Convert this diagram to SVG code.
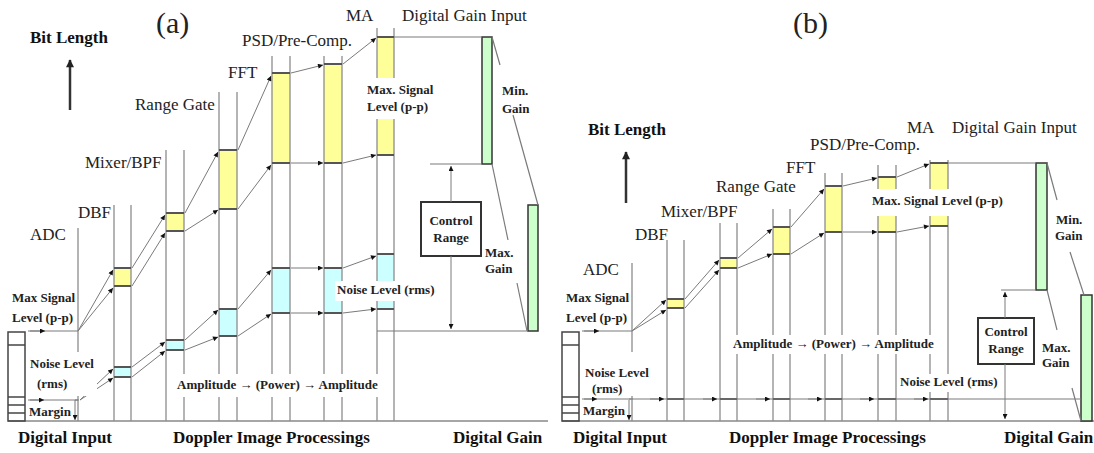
<svg xmlns="http://www.w3.org/2000/svg" width="1094" height="453" viewBox="0 0 1094 453">
<style>
.col{stroke:#8c8c8c;stroke-width:1.3;fill:none}
.edge{stroke:#555;stroke-width:2}
.y{fill:#ffff99}
.c{fill:#ccffff}
.g{fill:#ccffcc;stroke:#333;stroke-width:1.5}
.arr{stroke:#7a7a7a;stroke-width:1;fill:none;marker-end:url(#ah)}
.ln{stroke:#7a7a7a;stroke-width:1.2;fill:none}
.base{stroke:#888;stroke-width:1.3}
.bg{fill:#fff}
.t{font-family:"Liberation Serif","Times New Roman",serif;font-size:17px;fill:#222}
.tb{font-family:"Liberation Serif","Times New Roman",serif;font-size:17px;font-weight:bold;fill:#111}
.ts{font-family:"Liberation Serif","Times New Roman",serif;font-size:13px;font-weight:bold;fill:#222}
.tt{font-family:"Liberation Serif","Times New Roman",serif;font-size:30px;fill:#222}
.box{fill:#fff;stroke:#333;stroke-width:2}
.lbox{fill:none;stroke:#444;stroke-width:1.5}
.up{stroke:#333;stroke-width:2.5;marker-end:url(#ahb)}
</style>
<defs>
<marker id="ah" viewBox="0 0 10 10" refX="10" refY="5" markerWidth="7" markerHeight="5" markerUnits="userSpaceOnUse" orient="auto"><path d="M0,0 L10,5 L0,10 z" fill="#111"/></marker>
<marker id="ahb" viewBox="0 0 10 10" refX="9" refY="5" markerWidth="9" markerHeight="8" markerUnits="userSpaceOnUse" orient="auto"><path d="M0,0 L10,5 L0,10 z" fill="#222"/></marker>
</defs>
<rect width="1094" height="453" fill="#fff"/>

<!-- ================= PANEL (a) ================= -->
<g id="a-base"><line class="base" x1="8" y1="421" x2="548" y2="421"/></g>
<g id="a-input">
<rect class="lbox" x="8" y="332" width="17" height="89"/>
<line class="lbox" x1="8" y1="345" x2="25" y2="345"/>
<line class="lbox" x1="8" y1="397" x2="25" y2="397"/>
<line class="lbox" x1="8" y1="405" x2="25" y2="405"/>
<line class="lbox" x1="8" y1="413" x2="25" y2="413"/>
</g>
<g id="a-adc">
<line class="col" x1="78" y1="228" x2="78" y2="421"/>
<line class="col" x1="75" y1="400" x2="79" y2="400"/>
</g>
<g id="a-dbf">
<rect class="y" x="114" y="268" width="17" height="18"/>
<rect class="c" x="114" y="367" width="17" height="10"/>
<line class="col" x1="114" y1="205" x2="114" y2="421"/><line class="col" x1="131" y1="205" x2="131" y2="421"/>
<line class="edge" x1="114" y1="268" x2="131" y2="268"/><line class="edge" x1="114" y1="286" x2="131" y2="286"/>
<line class="edge" x1="114" y1="367" x2="131" y2="367"/><line class="edge" x1="114" y1="377" x2="131" y2="377"/>
</g>
<g id="a-mixer">
<rect class="y" x="166" y="213" width="18" height="18"/>
<rect class="c" x="166" y="340" width="18" height="10"/>
<line class="col" x1="166" y1="150" x2="166" y2="421"/><line class="col" x1="184" y1="150" x2="184" y2="421"/>
<line class="edge" x1="166" y1="213" x2="184" y2="213"/><line class="edge" x1="166" y1="231" x2="184" y2="231"/>
<line class="edge" x1="166" y1="340" x2="184" y2="340"/><line class="edge" x1="166" y1="350" x2="184" y2="350"/>
</g>
<g id="a-range">
<rect class="y" x="219" y="150" width="18" height="59"/>
<rect class="c" x="219" y="309" width="18" height="27"/>
<line class="col" x1="219" y1="92" x2="219" y2="421"/><line class="col" x1="237" y1="92" x2="237" y2="421"/>
<line class="edge" x1="219" y1="150" x2="237" y2="150"/><line class="edge" x1="219" y1="209" x2="237" y2="209"/>
<line class="edge" x1="219" y1="309" x2="237" y2="309"/><line class="edge" x1="219" y1="336" x2="237" y2="336"/>
</g>
<g id="a-fft">
<rect class="y" x="272" y="73" width="18" height="90"/>
<rect class="c" x="272" y="268" width="18" height="45"/>
<line class="col" x1="272" y1="56" x2="272" y2="421"/><line class="col" x1="290" y1="56" x2="290" y2="421"/>
<line class="edge" x1="272" y1="73" x2="290" y2="73"/><line class="edge" x1="272" y1="163" x2="290" y2="163"/>
<line class="edge" x1="272" y1="268" x2="290" y2="268"/><line class="edge" x1="272" y1="313" x2="290" y2="313"/>
</g>
<g id="a-psd">
<rect class="y" x="324" y="64" width="18" height="99"/>
<rect class="c" x="324" y="268" width="18" height="45"/>
<line class="col" x1="324" y1="56" x2="324" y2="421"/><line class="col" x1="342" y1="56" x2="342" y2="421"/>
<line class="edge" x1="324" y1="64" x2="342" y2="64"/><line class="edge" x1="324" y1="163" x2="342" y2="163"/>
<line class="edge" x1="324" y1="268" x2="342" y2="268"/><line class="edge" x1="324" y1="313" x2="342" y2="313"/>
</g>
<g id="a-ma">
<rect class="y" x="377" y="37" width="17" height="118"/>
<rect class="c" x="377" y="254" width="17" height="55"/>
<line class="col" x1="377" y1="28" x2="377" y2="421"/><line class="col" x1="394" y1="28" x2="394" y2="421"/>
<line class="edge" x1="377" y1="37" x2="394" y2="37"/><line class="edge" x1="377" y1="155" x2="394" y2="155"/>
<line class="edge" x1="377" y1="254" x2="394" y2="254"/><line class="edge" x1="377" y1="309" x2="394" y2="309"/>
</g>
<g id="a-gain">
<rect class="g" x="482" y="37" width="10" height="127"/>
<rect class="g" x="528" y="205" width="10" height="126"/>
</g>
<g id="a-control">
<rect class="box" x="421" y="202" width="60" height="54"/>
<text class="ts" x="451" y="225" text-anchor="middle">Control</text>
<text class="ts" x="451" y="242" text-anchor="middle">Range</text>
</g>
<g id="a-connectors">
<line class="ln" x1="28" y1="331" x2="78" y2="331"/><line class="arr" x1="30" y1="331" x2="45" y2="331"/>
<line class="ln" x1="28" y1="400" x2="78" y2="400"/><line class="arr" x1="30" y1="400" x2="44" y2="400"/>
<line class="arr" x1="75" y1="400" x2="75" y2="420"/>
<line class="arr" x1="78" y1="331" x2="113" y2="270"/><line class="arr" x1="78" y1="331" x2="113" y2="288"/>
<line class="arr" x1="132" y1="268" x2="165" y2="215"/><line class="arr" x1="132" y1="286" x2="165" y2="233"/>
<line class="arr" x1="185" y1="213" x2="218" y2="152"/><line class="arr" x1="185" y1="231" x2="218" y2="210"/>
<line class="arr" x1="238" y1="150" x2="271" y2="76"/><line class="arr" x1="238" y1="209" x2="271" y2="165"/>
<line class="arr" x1="291" y1="73" x2="323" y2="65"/><line class="arr" x1="291" y1="163" x2="323" y2="163"/>
<line class="arr" x1="343" y1="64" x2="376" y2="38"/><line class="arr" x1="343" y1="163" x2="376" y2="155"/>
<line class="arr" x1="80" y1="400" x2="113" y2="369"/><line class="arr" x1="80" y1="400" x2="113" y2="378"/>
<line class="arr" x1="132" y1="367" x2="165" y2="342"/><line class="arr" x1="132" y1="377" x2="165" y2="351"/>
<line class="arr" x1="185" y1="340" x2="218" y2="310"/><line class="arr" x1="185" y1="350" x2="218" y2="337"/>
<line class="arr" x1="238" y1="309" x2="271" y2="270"/><line class="arr" x1="238" y1="336" x2="271" y2="314"/>
<line class="arr" x1="291" y1="268" x2="323" y2="268"/><line class="arr" x1="291" y1="313" x2="323" y2="313"/>
<line class="arr" x1="343" y1="268" x2="376" y2="256"/><line class="arr" x1="343" y1="313" x2="376" y2="309"/>
<line class="ln" x1="394" y1="37" x2="482" y2="37"/>
<line class="ln" x1="430" y1="164" x2="482" y2="164"/>
<line class="ln" x1="377" y1="331" x2="528" y2="331"/>
<line class="arr" x1="451" y1="202" x2="451" y2="166"/>
<line class="arr" x1="451" y1="256" x2="451" y2="329"/>
<line class="ln" x1="492" y1="37" x2="500" y2="65"/><line class="ln" x1="513" y1="115" x2="538" y2="205"/>
<line class="ln" x1="492" y1="164" x2="508" y2="240"/><line class="ln" x1="517" y1="283" x2="527" y2="331"/>
<line class="up" x1="70" y1="110" x2="70" y2="60"/>
</g>
<g id="a-labels">
<rect class="bg" x="365" y="78" width="71" height="41"/>
<text class="ts" x="367" y="94">Max. Signal</text>
<text class="ts" x="367" y="111">Level (p-p)</text>
<rect class="bg" x="335" y="281" width="101" height="20"/>
<text class="ts" x="337" y="294">Noise Level (rms)</text>
<rect class="bg" x="175" y="374" width="208" height="23"/>
<text class="ts" x="177" y="389">Amplitude → (Power) → Amplitude</text>
<rect class="bg" x="28" y="352" width="69" height="44"/>
<text class="ts" x="30" y="368">Noise Level</text>
<text class="ts" x="37" y="388">(rms)</text>
<text class="ts" x="29" y="416">Margin</text>
<text class="ts" x="12" y="302">Max Signal</text>
<text class="ts" x="12" y="322">Level (p-p)</text>
<text class="ts" x="502" y="95">Min.</text>
<text class="ts" x="502" y="113">Gain</text>
<text class="ts" x="485" y="257">Max.</text>
<text class="ts" x="485" y="273">Gain</text>
<text class="tt" x="156" y="33">(a)</text>
<text class="tb" x="30" y="43">Bit Length</text>
<text class="t" x="346" y="21">MA</text>
<text class="t" x="402" y="21">Digital Gain Input</text>
<text class="t" x="242" y="46">PSD/Pre-Comp.</text>
<text class="t" x="228" y="78">FFT</text>
<text class="t" x="135" y="110">Range Gate</text>
<text class="t" x="85" y="168">Mixer/BPF</text>
<text class="t" x="78" y="218">DBF</text>
<text class="t" x="30" y="240">ADC</text>
<text class="tb" x="18" y="443">Digital Input</text>
<text class="tb" x="173" y="443">Doppler Image Processings</text>
<text class="tb" x="453" y="443">Digital Gain</text>
</g>

<!-- ================= PANEL (b) ================= -->
<g id="b-base"><line class="base" x1="562" y1="421" x2="1094" y2="421"/></g>
<g id="b-input">
<rect class="lbox" x="562" y="332" width="17" height="89"/>
<line class="lbox" x1="562" y1="345" x2="579" y2="345"/>
<line class="lbox" x1="562" y1="397" x2="579" y2="397"/>
<line class="lbox" x1="562" y1="405" x2="579" y2="405"/>
<line class="lbox" x1="562" y1="413" x2="579" y2="413"/>
</g>
<g id="b-adc">
<line class="col" x1="632" y1="263" x2="632" y2="421"/>
</g>
<g id="b-dbf">
<rect class="y" x="667" y="299" width="17" height="9"/>
<line class="col" x1="667" y1="240" x2="667" y2="421"/><line class="col" x1="684" y1="240" x2="684" y2="421"/>
<line class="edge" x1="667" y1="299" x2="684" y2="299"/><line class="edge" x1="667" y1="308" x2="684" y2="308"/>
<line class="edge" x1="667" y1="399" x2="684" y2="399"/>
</g>
<g id="b-mixer">
<rect class="y" x="720" y="258" width="17" height="10"/>
<line class="col" x1="720" y1="223" x2="720" y2="421"/><line class="col" x1="737" y1="223" x2="737" y2="421"/>
<line class="edge" x1="720" y1="258" x2="737" y2="258"/><line class="edge" x1="720" y1="268" x2="737" y2="268"/>
<line class="edge" x1="720" y1="399" x2="737" y2="399"/>
</g>
<g id="b-range">
<rect class="y" x="773" y="227" width="17" height="27"/>
<line class="col" x1="773" y1="209" x2="773" y2="421"/><line class="col" x1="790" y1="209" x2="790" y2="421"/>
<line class="edge" x1="773" y1="227" x2="790" y2="227"/><line class="edge" x1="773" y1="254" x2="790" y2="254"/>
<line class="edge" x1="773" y1="399" x2="790" y2="399"/>
</g>
<g id="b-fft">
<rect class="y" x="825" y="186" width="17" height="46"/>
<line class="col" x1="825" y1="173" x2="825" y2="421"/><line class="col" x1="842" y1="173" x2="842" y2="421"/>
<line class="edge" x1="825" y1="186" x2="842" y2="186"/><line class="edge" x1="825" y1="232" x2="842" y2="232"/>
<line class="edge" x1="825" y1="399" x2="842" y2="399"/>
</g>
<g id="b-psd">
<rect class="y" x="878" y="177" width="18" height="55"/>
<line class="col" x1="878" y1="165" x2="878" y2="421"/><line class="col" x1="896" y1="165" x2="896" y2="421"/>
<line class="edge" x1="878" y1="177" x2="896" y2="177"/><line class="edge" x1="878" y1="232" x2="896" y2="232"/>
<line class="edge" x1="878" y1="399" x2="896" y2="399"/>
</g>
<g id="b-ma">
<rect class="y" x="930" y="163" width="18" height="63"/>
<line class="col" x1="930" y1="160" x2="930" y2="421"/><line class="col" x1="948" y1="160" x2="948" y2="421"/>
<line class="edge" x1="930" y1="163" x2="948" y2="163"/><line class="edge" x1="930" y1="226" x2="948" y2="226"/>
<line class="edge" x1="930" y1="399" x2="948" y2="399"/>
</g>
<g id="b-gain">
<rect class="g" x="1036" y="163" width="11" height="127"/>
<rect class="g" x="1081" y="295" width="11" height="126"/>
</g>
<g id="b-control">
<rect class="box" x="978" y="318" width="56" height="46"/>
<text class="ts" x="1006" y="336" text-anchor="middle">Control</text>
<text class="ts" x="1006" y="353" text-anchor="middle">Range</text>
</g>
<g id="b-connectors">
<line class="ln" x1="582" y1="331" x2="632" y2="331"/><line class="arr" x1="584" y1="331" x2="599" y2="331"/>
<line class="ln" x1="582" y1="399" x2="1081" y2="399"/>
<line class="arr" x1="584" y1="399" x2="597" y2="399"/>
<line class="arr" x1="650" y1="399" x2="664" y2="399"/>
<line class="arr" x1="703" y1="399" x2="717" y2="399"/>
<line class="arr" x1="756" y1="399" x2="770" y2="399"/>
<line class="arr" x1="808" y1="399" x2="822" y2="399"/>
<line class="arr" x1="860" y1="399" x2="874" y2="399"/>
<line class="arr" x1="914" y1="399" x2="928" y2="399"/>
<line class="col" x1="629" y1="399" x2="633" y2="399"/>
<line class="arr" x1="629" y1="400" x2="629" y2="420"/>
<line class="arr" x1="632" y1="331" x2="666" y2="300"/><line class="arr" x1="632" y1="331" x2="666" y2="310"/>
<line class="arr" x1="685" y1="299" x2="719" y2="260"/><line class="arr" x1="685" y1="308" x2="719" y2="270"/>
<line class="arr" x1="738" y1="258" x2="772" y2="229"/><line class="arr" x1="738" y1="268" x2="772" y2="254"/>
<line class="arr" x1="791" y1="227" x2="824" y2="189"/><line class="arr" x1="791" y1="254" x2="824" y2="233"/>
<line class="arr" x1="843" y1="186" x2="877" y2="178"/><line class="arr" x1="843" y1="232" x2="877" y2="232"/>
<line class="arr" x1="897" y1="177" x2="929" y2="164"/><line class="arr" x1="897" y1="232" x2="929" y2="226"/>
<line class="ln" x1="948" y1="163" x2="1036" y2="163"/>
<line class="ln" x1="1001" y1="290" x2="1036" y2="290"/>
<line class="arr" x1="1005" y1="318" x2="1005" y2="292"/>
<line class="arr" x1="1005" y1="364" x2="1005" y2="419"/>
<line class="ln" x1="1047" y1="163" x2="1057" y2="200"/><line class="ln" x1="1070" y1="252" x2="1084" y2="295"/>
<line class="ln" x1="1047" y1="290" x2="1057" y2="330"/><line class="ln" x1="1072" y1="388" x2="1081" y2="421"/>
<line class="up" x1="626" y1="203" x2="626" y2="152"/>
</g>
<g id="b-labels">
<rect class="bg" x="870" y="189" width="136" height="27"/>
<text class="ts" x="872" y="205">Max. Signal Level (p-p)</text>
<rect class="bg" x="898" y="374" width="102" height="18"/>
<text class="ts" x="900" y="386">Noise Level (rms)</text>
<rect class="bg" x="731" y="335" width="207" height="19"/>
<text class="ts" x="733" y="348">Amplitude → (Power) → Amplitude</text>
<rect class="bg" x="582" y="352" width="69" height="44"/>
<text class="ts" x="585" y="377">Noise Level</text>
<text class="ts" x="592" y="393">(rms)</text>
<text class="ts" x="583" y="415">Margin</text>
<text class="ts" x="566" y="302">Max Signal</text>
<text class="ts" x="566" y="322">Level (p-p)</text>
<text class="ts" x="1056" y="224">Min.</text>
<text class="ts" x="1055" y="240">Gain</text>
<text class="ts" x="1042" y="352">Max.</text>
<text class="ts" x="1042" y="367">Gain</text>
<text class="tt" x="793" y="33">(b)</text>
<text class="tb" x="588" y="135">Bit Length</text>
<text class="t" x="907" y="133">MA</text>
<text class="t" x="952" y="133">Digital Gain Input</text>
<text class="t" x="810" y="150">PSD/Pre-Comp.</text>
<text class="t" x="786" y="173">FFT</text>
<text class="t" x="716" y="192">Range Gate</text>
<text class="t" x="661" y="217">Mixer/BPF</text>
<text class="t" x="635" y="240">DBF</text>
<text class="t" x="583" y="275">ADC</text>
<text class="tb" x="573" y="443">Digital Input</text>
<text class="tb" x="729" y="443">Doppler Image Processings</text>
<text class="tb" x="1004" y="443">Digital Gain</text>
</g>
</svg>
